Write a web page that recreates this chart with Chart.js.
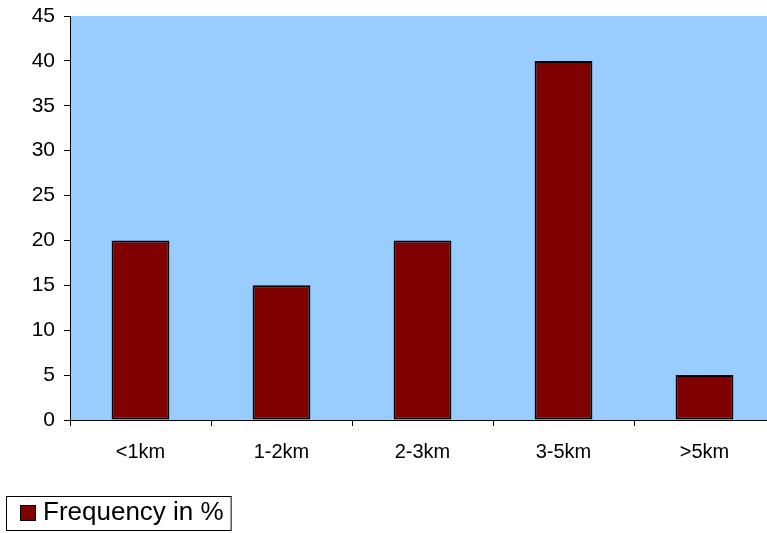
<!DOCTYPE html>
<html>
<head>
<meta charset="utf-8">
<script src="https://cdn.jsdelivr.net/npm/chart.js@4"></script>
<style>
  html, body { margin: 0; padding: 0; overflow: hidden; background: #fff; }
  #wrap { position: absolute; left: 0; top: 0; width: 776px; height: 533px; }
</style>
</head>
<body>
<div id="wrap"><canvas id="barChart"></canvas></div>
<script>
// datos
const categories = ['<1km', '1-2km', '2-3km', '3-5km', '>5km'];
const frequency = [20, 15, 20, 40, 5];
const seriesLabel = 'Frequency in %';

Chart.defaults.font.family = "'Liberation Sans', Arial, sans-serif";
Chart.defaults.color = '#000';

// fondo del área del gráfico
const plotBackground = {
    id: 'plotBackground',
    beforeDraw(chart) {
        const a = chart.chartArea;
        const ctx = chart.ctx;
        ctx.save();
        ctx.fillStyle = '#99CCFF';
        ctx.fillRect(a.left, a.top, a.right - a.left, a.bottom - a.top);
        ctx.restore();
    }
};

// leyenda con borde, abajo a la izquierda
const boxedLegend = {
    id: 'boxedLegend',
    afterDraw(chart) {
        const ctx = chart.ctx;
        const ds = chart.data.datasets[0];
        ctx.save();
        ctx.font = "26px 'Liberation Sans', Arial, sans-serif";
        const textW = ctx.measureText(ds.label).width;
        const x0 = 6.5, y0 = 496.5, h = 34;
        const w = 43 - 6 + textW + 7;
        ctx.fillStyle = '#fff';
        ctx.fillRect(x0, y0, w, h);
        ctx.strokeStyle = '#000';
        ctx.lineWidth = 1;
        ctx.strokeRect(x0, y0, w, h);
        ctx.fillStyle = ds.backgroundColor;
        ctx.fillRect(20.5, 505.5, 15, 15);
        ctx.strokeRect(20.5, 505.5, 15, 15);
        ctx.fillStyle = '#000';
        ctx.textBaseline = 'middle';
        ctx.fillText(ds.label, 43, 513);
        ctx.restore();
    }
};

const barCtx = document.getElementById('barChart').getContext('2d');
const barChart = new Chart(barCtx, {
    type: 'bar',
    data: {
        labels: categories,
        datasets: [{
            label: seriesLabel,
            data: frequency,
            backgroundColor: '#800000',
            borderColor: '#000',
            borderWidth: 2,
            borderSkipped: false,
            categoryPercentage: 1,
            barPercentage: 0.41
        }]
    },
    options: {
        responsive: true,
        maintainAspectRatio: false,
        animation: false,
        layout: { padding: { top: 16, bottom: 53, left: 0, right: 1 } },
        plugins: {
            legend: { display: false },
            tooltip: { enabled: false }
        },
        scales: {
            x: {
                grid: { offset: true, drawOnChartArea: false, tickLength: 6, color: '#000' },
                border: { color: '#000', width: 1 },
                ticks: { font: { size: 20 }, padding: 14, maxRotation: 0 },
                afterFit(scale) {
                    scale.height = 60;
                    scale.paddingLeft = 0;
                    scale.paddingRight = 0;
                }
            },
            y: {
                min: 0,
                max: 45,
                grid: { drawOnChartArea: false, tickLength: 6, color: '#000' },
                border: { color: '#000', width: 1 },
                ticks: { stepSize: 5, font: { size: 21 }, padding: 9 },
                afterFit(scale) {
                    scale.width = 70;
                    scale.paddingTop = 0;
                    scale.paddingBottom = 0;
                }
            }
        }
    },
    plugins: [plotBackground, boxedLegend]
});
</script>
</body>
</html>
